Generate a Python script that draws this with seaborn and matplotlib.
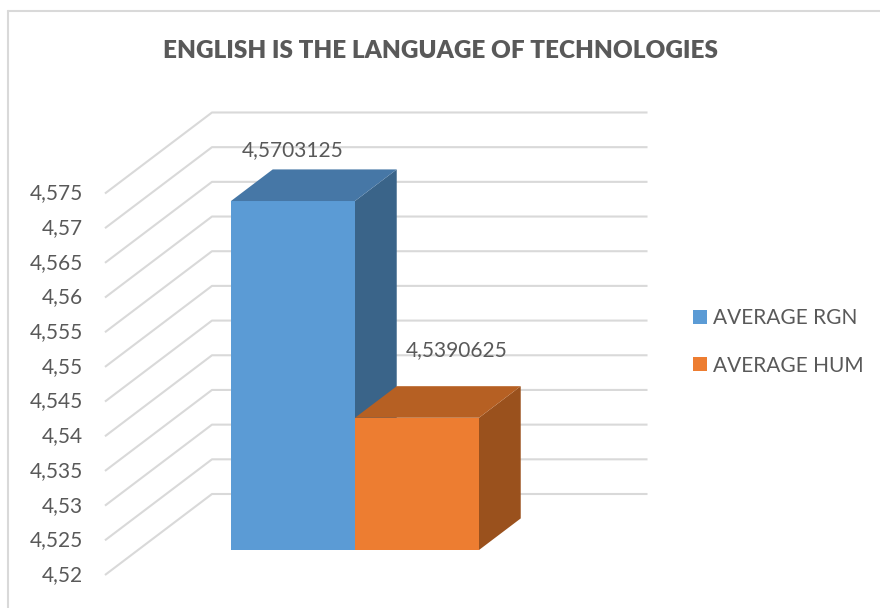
import matplotlib
matplotlib.use("Agg")
import matplotlib.pyplot as plt
from matplotlib.patches import Polygon
from matplotlib.lines import Line2D
import pandas as pd
import seaborn as sns

# ---- data -------------------------------------------------------------
title = "ENGLISH IS THE LANGUAGE OF TECHNOLOGIES"
question = ["English is the language of technologies"]
series = ["AVERAGE RGN", "AVERAGE HUM"]
values = [4.5703125, 4.5390625]
value_labels = ["4,5703125", "4,5390625"]
tick_values = [4.52, 4.525, 4.53, 4.535, 4.54, 4.545,
               4.55, 4.555, 4.56, 4.565, 4.57, 4.575]
tick_labels = ["4,52", "4,525", "4,53", "4,535", "4,54", "4,545",
               "4,55", "4,555", "4,56", "4,565", "4,57", "4,575"]

# ---- style ------------------------------------------------------------
front_colors = ["#5B9BD5", "#ED7D31"]
top_colors = ["#4677A6", "#B66023"]
side_colors = ["#3A6489", "#9A511D"]
grid_color = "#D9D9D9"
text_color = "#595959"

W, H, DPI = 880, 608, 100
sns.set_theme(style="white")
plt.rcParams["font.family"] = ["Lato", "DejaVu Sans"]

fig = plt.figure(figsize=(W / DPI, H / DPI), dpi=DPI)
ax = fig.add_axes([0, 0, 1, 1])

df = pd.DataFrame({"question": question * len(series),
                   "series": series, "value": values})
sns.barplot(data=df, x="question", y="value", hue="series",
            hue_order=series, palette=front_colors, width=0.8,
            saturation=1, linewidth=0, ax=ax)

# pixel scale of the bar plane (px per data unit) and its anchor
PX_X, PX_Y = 310.0, 6936.6
left_px, base_px = 231, 550
base = tick_values[0]
first_left = ax.containers[0][0].get_x()
ax.set_xlim(first_left - left_px / PX_X, first_left + (W - left_px) / PX_X)
ax.set_ylim(base - (H - base_px) / PX_Y, base + base_px / PX_Y)
ax.axis("off")

# depth of the 3-D box, expressed in data units
fdx, fdy = 107 / PX_X, 81 / PX_Y
d_front = 25 / 81          # bar front plane, as a fraction of full depth
d_bar = 0.39               # bar thickness, as a fraction of full depth
wall_left, wall_right = -0.70, 0.705

# side wall diagonals + back wall gridlines, with value labels on the front edge
for v, lab in zip(tick_values, tick_labels):
    fx, fy = wall_left - d_front * fdx, v - d_front * fdy
    bx, by = wall_left + (1 - d_front) * fdx, v + (1 - d_front) * fdy
    rx = wall_right + (1 - d_front) * fdx
    ax.plot([fx, bx, rx], [fy, by, by], color=grid_color, lw=1.5,
            zorder=1, solid_capstyle="butt")
    ax.annotate(lab, (fx, fy), xytext=(-22, 0), textcoords="offset pixels",
                ha="right", va="center", fontsize=15, color=text_color)

# 3-D bars: seaborn front faces, with top and side faces added
label_offsets = [(0, 51), (40, 68)]
ddx, ddy = d_bar * fdx, d_bar * fdy
for i, cont in enumerate(ax.containers):
    bar = cont[0]
    top = bar.get_height()
    bar.set_y(base)
    bar.set_height(top - base)
    bar.set_zorder(3 + i)
    xl = bar.get_x()
    xr = xl + bar.get_width()
    top_face = [(xl, top), (xr, top), (xr + ddx, top + ddy), (xl + ddx, top + ddy)]
    side_face = [(xr, base), (xr + ddx, base + ddy), (xr + ddx, top + ddy), (xr, top)]
    ax.add_patch(Polygon(top_face, closed=True, facecolor=top_colors[i],
                         edgecolor="none", zorder=3.2 + i))
    ax.add_patch(Polygon(side_face, closed=True, facecolor=side_colors[i],
                         edgecolor="none", zorder=3.1 + i))
    ax.annotate(value_labels[i], ((xl + xr) / 2, top),
                xytext=label_offsets[i], textcoords="offset pixels",
                ha="center", va="center", fontsize=15, color=text_color,
                zorder=6)

# legend on the right
handles, labels = ax.get_legend_handles_labels()
if ax.get_legend() is not None:
    ax.get_legend().remove()
fig.legend(handles, labels, loc="center left",
           bbox_to_anchor=(693 / W, 1 - 342 / H), frameon=False,
           fontsize=15, handlelength=0.65, handleheight=0.65,
           handletextpad=0.3, labelspacing=1.3, labelcolor=text_color,
           borderaxespad=0, borderpad=0)

# title
fig.text(0.5, 1 - 51 / H, title, ha="center", va="center",
         fontsize=17.5, fontweight="heavy", color=text_color)

# chart-area border
fig.add_artist(Line2D([8 / W, 8 / W], [0, 1 - 11 / H],
                      transform=fig.transFigure, color=grid_color, lw=1.5))
fig.add_artist(Line2D([8 / W, 1], [1 - 11 / H, 1 - 11 / H],
                      transform=fig.transFigure, color=grid_color, lw=1.5))

fig.savefig("out.png", dpi=DPI, facecolor="white")
